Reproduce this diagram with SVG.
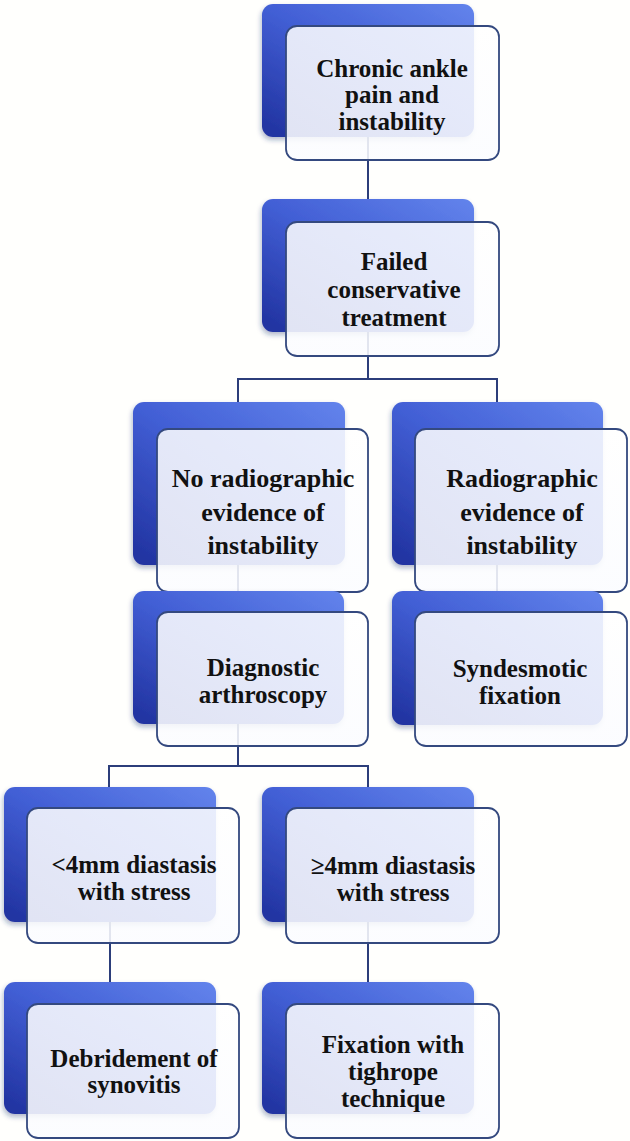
<svg xmlns="http://www.w3.org/2000/svg" width="630" height="1141" viewBox="0 0 630 1141">
<defs>
<linearGradient id="blue" x1="1" y1="0" x2="0.1" y2="1">
<stop offset="0" stop-color="#6384ec"/>
<stop offset="0.5" stop-color="#425fd5"/>
<stop offset="1" stop-color="#2234a2"/>
</linearGradient>
<linearGradient id="front" x1="0" y1="0" x2="0" y2="1">
<stop offset="0" stop-color="#ffffff" stop-opacity="0.86"/>
<stop offset="1" stop-color="#fbfcff" stop-opacity="0.88"/>
</linearGradient>
<filter id="sh" x="-10%" y="-10%" width="130%" height="130%">
<feDropShadow dx="-1" dy="3" stdDeviation="2.5" flood-color="#203070" flood-opacity="0.35"/>
</filter>
</defs>
<style>
.b{fill:url(#blue);filter:url(#sh)}
.f{fill:url(#front);stroke:#34497f;stroke-width:1.8}
.c{fill:none;stroke:#2c3e7a;stroke-width:2}
text{font-family:"Liberation Serif","Times New Roman",serif;font-weight:bold;font-size:25px;fill:#111;text-anchor:middle}
.l{font-size:26px}
</style>
<rect width="630" height="1141" fill="#fffffd"/>
<g id="connectors">
<path class="c" d="M368 137V199"/>
<path class="c" d="M368 332V379M238 402V379H497V402"/>
<path class="c" d="M238 565V591"/>
<path class="c" d="M497 565V591"/>
<path class="c" d="M238 724V766M109 787V766H368V787"/>
<path class="c" d="M110 922V982"/>
<path class="c" d="M368 922V982"/>
</g>
<g id="n1">
<rect class="b" x="262" y="4" width="212" height="133" rx="11"/>
<rect class="f" x="286" y="26" width="213" height="134" rx="11"/>
<text x="392" y="77">Chronic ankle</text>
<text x="392" y="103">pain and</text>
<text x="392" y="130">instability</text>
</g>
<g id="n2">
<rect class="b" x="262" y="199" width="212" height="133" rx="11"/>
<rect class="f" x="286" y="222" width="213" height="134" rx="11"/>
<text x="394" y="270">Failed</text>
<text x="394" y="298">conservative</text>
<text x="394" y="326">treatment</text>
</g>
<g id="n3">
<rect class="b" x="133" y="402" width="212" height="163" rx="11"/>
<rect class="f" x="157" y="429" width="211" height="163" rx="11"/>
<text class="l" x="263" y="487">No radiographic</text>
<text class="l" x="263" y="521">evidence of</text>
<text class="l" x="263" y="554">instability</text>
</g>
<g id="n4">
<rect class="b" x="392" y="402" width="211" height="163" rx="11"/>
<rect class="f" x="415" y="429" width="212" height="163" rx="11"/>
<text class="l" x="522" y="487">Radiographic</text>
<text class="l" x="522" y="521">evidence of</text>
<text class="l" x="522" y="554">instability</text>
</g>
<g id="n5">
<rect class="b" x="133" y="591" width="211" height="133" rx="11"/>
<rect class="f" x="157" y="612" width="211" height="134" rx="11"/>
<text x="263" y="676">Diagnostic</text>
<text x="263" y="703">arthroscopy</text>
</g>
<g id="n6">
<rect class="b" x="392" y="591" width="211" height="134" rx="11"/>
<rect class="f" x="415" y="612" width="212" height="134" rx="11"/>
<text x="520" y="677">Syndesmotic</text>
<text x="520" y="704">fixation</text>
</g>
<g id="n7">
<rect class="b" x="4" y="787" width="212" height="135" rx="11"/>
<rect class="f" x="27" y="808" width="212" height="135" rx="11"/>
<text x="134" y="873">&lt;4mm diastasis</text>
<text x="134" y="900">with stress</text>
</g>
<g id="n8">
<rect class="b" x="262" y="787" width="212" height="135" rx="11"/>
<rect class="f" x="286" y="808" width="213" height="135" rx="11"/>
<text x="393" y="874">≥4mm diastasis</text>
<text x="393" y="901">with stress</text>
</g>
<g id="n9">
<rect class="b" x="4" y="982" width="212" height="132" rx="11"/>
<rect class="f" x="27" y="1004" width="212" height="134" rx="11"/>
<text x="134" y="1067">Debridement of</text>
<text x="134" y="1093">synovitis</text>
</g>
<g id="n10">
<rect class="b" x="262" y="982" width="212" height="132" rx="11"/>
<rect class="f" x="286" y="1004" width="213" height="134" rx="11"/>
<text x="393" y="1053">Fixation with</text>
<text x="393" y="1080">tighrope</text>
<text x="393" y="1107">technique</text>
</g>
</svg>
